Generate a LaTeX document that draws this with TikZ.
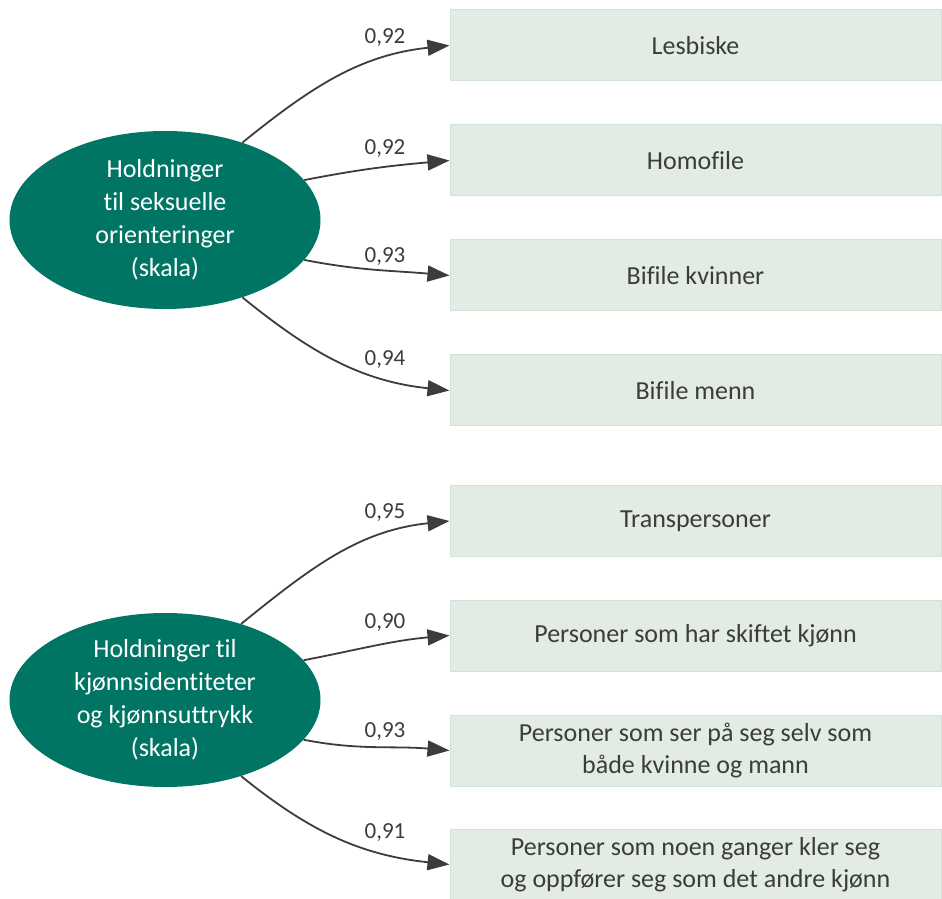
\documentclass[tikz,border=0pt]{standalone}
\usepackage{fontspec}
\setmainfont{Carlito}[Ligatures={NoCommon}]
\usetikzlibrary{arrows.meta,shapes.geometric}
\definecolor{ellfill}{HTML}{007563}
\definecolor{boxfill}{HTML}{E2EBE4}
\definecolor{boxline}{HTML}{D3E2D7}
\definecolor{txt}{HTML}{3C3C3C}
\tikzset{
  latent/.style={ellipse, fill=ellfill, draw=none, minimum width=311pt, minimum height=178pt,
    text=white, align=center, inner sep=0pt, font=\fontsize{26}{33}\selectfont},
  item/.style={rectangle, fill=boxfill, draw=boxline, line width=1pt, minimum width=491pt,
    minimum height=71pt, text=txt, align=center, inner sep=0pt, font=\fontsize{26}{31.5}\selectfont},
  arr/.style={draw=txt, line width=1.8pt, -{Triangle[length=22pt,width=16pt]}},
  lbl/.style={text=txt, inner sep=0pt, font=\fontsize{23}{27}\selectfont}
}
\begin{document}
\begin{tikzpicture}[x=1pt,y=1pt]
\useasboundingbox (0,0) rectangle (942,898);
% latent variables
\node[latent] (e1) at (165,678) {Holdninger\\til seksuelle\\orienteringer\\(skala)};
\node[latent, minimum height=174pt] (e2) at (165,198) {Holdninger til\\kjønnsidentiteter\\og kjønnsuttrykk\\(skala)};
% items
\node[item] (b1) at (695.5,852.5) {Lesbiske};
\node[item] (b2) at (695.5,737.5) {Homofile};
\node[item] (b3) at (695.5,622.5) {Bifile kvinner};
\node[item] (b4) at (695.5,507.5) {Bifile menn};
\node[item] (b5) at (695.5,377) {Transpersoner};
\node[item] (b6) at (695.5,262.5) {Personer som har skiftet kjønn};
\node[item] (b7) at (695.5,147.5) {Personer som ser på seg selv som\\både kvinne og mann};
\node[item] (b8) at (695.5,33.5) {Personer som noen ganger kler seg\\og oppfører seg som det andre kjønn};
% arrows
\draw[arr] (e1.45) to[out=39,in=186] (b1.west);
\draw[arr] (e1.16) to[out=11,in=185] (b2.west);
\draw[arr] (e1.-16) to[out=-11,in=175] (b3.west);
\draw[arr] (e1.-45) to[out=-39,in=174] (b4.west);
\draw[arr] (e2.45) to[out=39,in=186] (b5.west);
\draw[arr] (e2.16) to[out=11,in=185] (b6.west);
\draw[arr] (e2.-16) to[out=-11,in=175] (b7.west);
\draw[arr] (e2.-45) to[out=-39,in=174] (b8.west);
% labels
\node[lbl] (l1) at (385,860) {0,92};
\node[lbl] (l2) at (385,749) {0,92};
\node[lbl] (l3) at (385,641) {0,93};
\node[lbl] (l4) at (385,538) {0,94};
\node[lbl] (l5) at (385,385) {0,95};
\node[lbl] (l6) at (385,275) {0,90};
\node[lbl] (l7) at (385,166) {0,93};
\node[lbl] (l8) at (385,65) {0,91};
\end{tikzpicture}
\end{document}
